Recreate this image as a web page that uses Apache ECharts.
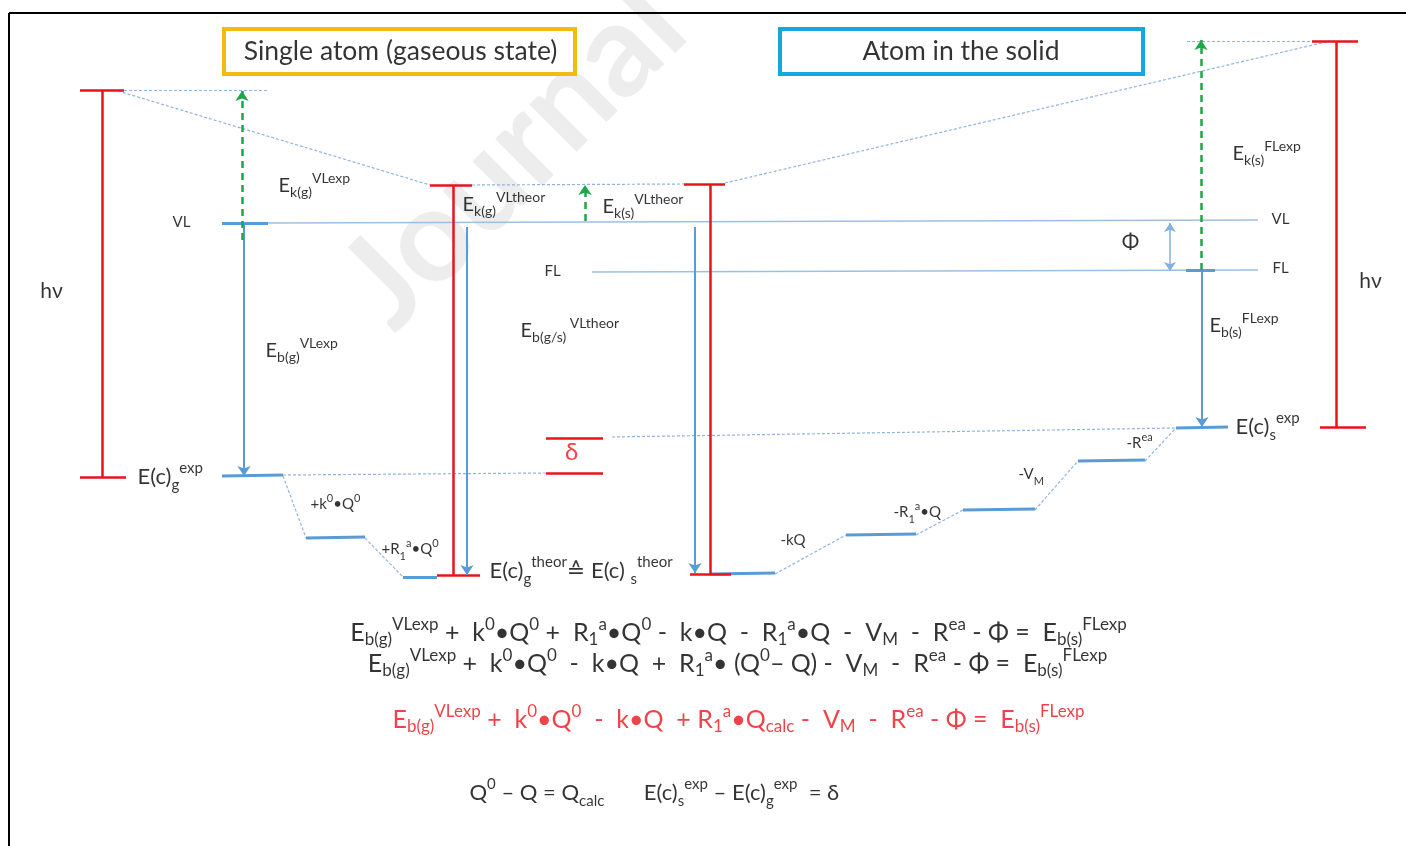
<!DOCTYPE html>
<html><head><meta charset="utf-8">
<script src="https://cdn.jsdelivr.net/npm/echarts@6/dist/echarts.min.js"></script>
<style>html,body{margin:0;padding:0;background:#fff}#c{width:1406px;height:846px}</style>
</head><body><div id="c"></div>
<script>
// ---------------- DATA (diagram coordinates: x = horizontal place, y = energy position, drawn top-down) ----------------
const frameLines   = [[9,13,1406,13],[9,13,9,846]];
const boxes        = [[224,29,575,74],[780,29,1143,74]];
const boxTitles    = [[401,51.5,'Single atom (gaseous state)'],[961.5,51.5,'Atom in the solid']];
const thinLevels   = [[268,223,1258,220],[592,272,1258,270]];              // VL, FL
const dottedLinks  = [
  [283,476,306,538],[365,538,403,577],
  [775,574,846,535],[916,535,963,510],[1035,510,1078,461],[1145,461,1176,428],
  [283,475,546,473],[612,437,1176,428],
  [124,90,268,90],[118,91,430,185],[472,185,684,184],[725,183,1330,41],[1187,41,1312,41]
];
const levelBars    = [
  [222,476,283,475],[306,538,365,537],[403,577,437,577],
  [710,574,775,573],[846,535,916,534],[963,510,1035,509],[1078,461,1145,460],[1176,428,1228,427],
  [222,223,268,223],[1186,270,1215,270]
];
const redBars      = [
  [80,90,124,90],[102,90,102,477],[80,477,126,477],
  [430,185,472,185],[453,185,453,575],[437,575,480,575],
  [684,184,725,184],[710,184,710,574],[690,574,731,574],
  [1312,41,1358,41],[1336,41,1336,427],[1320,427,1366,427],
  [546,438,603,438],[546,473,603,473]
];
const blueArrows   = [[244,224,244,476],[467,227,467,575],[695,227,695,573],[1202,272,1202,427]];
const phiArrow     = [[1170,223,1170,271]];
const greenArrows  = [[242,240,242,91],[585,221,585,185],[1201,270,1201,40]];

const leftLabels   = [
  [279,186,'{m|E}{s|k(g)}{u|VLexp}'],
  [463,205,'{m|E}{s|k(g)}{u|VLtheor}'],
  [603,207,'{m|E}{s|k(s)}{u|VLtheor}'],
  [266,351,'{m|E}{s|b(g)}{u|VLexp}'],
  [521,331,'{m|E}{s|b(g/s)}{u| VLtheor}'],
  [1233,154,'{m|E}{s|k(s)}{u|FLexp}'],
  [1210,326,'{m|E}{s|b(s)}{u|FLexp}'],
  [311,505,'{t|+k}{tu|0}{t|•Q}{tu|0}'],
  [382,550,'{t|+R}{ts|1}{tu|a}{t|•Q}{tu|0}'],
  [781,541,'{t|-kQ}'],
  [894,513,'{t|-R}{ts|1}{tu|a}{t|•Q}'],
  [1019,475,'{t|-V}{ts|M}'],
  [1127,444,'{t|-R}{tu|ea}'],
  [138,477,'{A|E(c)}{B|g}{C|exp}'],
  [490,571,'{A|E(c)}{B|g}{C|theor}{A|≙ E(c) }{B|s}{C|theor}'],
  [1236,427,'{A|E(c)}{B|s}{C|exp}'],
  [470,793,'{A|Q}{C|0}{A| – Q = Q}{B|calc}{A|       E(c)}{B|s}{C|exp}{A| – E(c)}{B|g}{C|exp}{A|  = δ}']
];
const centerLabels = [
  [182,223,'{p|VL}'],[1281,220,'{p|VL}'],[553,272,'{p|FL}'],[1281,269,'{p|FL}'],
  [52,292,'{h|hν}'],[1371,282,'{h|hν}'],[1131,243,'{h|Φ}'],[572,453,'{d|δ}']
];
const equations    = [
  [739,633,'{Q|E}{QB|b(g)}{QC|VLexp}{Q| +  k}{QC|0}{Q|•Q}{QC|0}{Q| +  R}{QB|1}{QC|a}{Q|•Q}{QC|0}{Q| -  k•Q  -  R}{QB|1}{QC|a}{Q|•Q  -  V}{QB|M}{Q|  -  R}{QC|ea}{Q| - Φ =  E}{QB|b(s)}{QC|FLexp}'],
  [738,664,'{Q|E}{QB|b(g)}{QC|VLexp}{Q| +  k}{QC|0}{Q|•Q}{QC|0}{Q|  -  k•Q  +  R}{QB|1}{QC|a}{Q|• (Q}{QC|0}{Q|– Q) -  V}{QB|M}{Q|  -  R}{QC|ea}{Q| - Φ =  E}{QB|b(s)}{QC|FLexp}'],
  [739,720,'{R|E}{RB|b(g)}{RC|VLexp}{R| +  k}{RC|0}{R|•Q}{RC|0}{R|  -  k•Q  + R}{RB|1}{RC|a}{R|•Q}{RB|calc}{R| -  V}{RB|M}{R|  -  R}{RC|ea}{R| - Φ =  E}{RB|b(s)}{RC|FLexp}']
];
const watermark    = [[514,156,'Journal']];

// ---------------- STYLE / BUILD ----------------
const F = 'Lato, "DejaVu Sans", sans-serif';
const INK = '#000';
const RED = '#e8141b';
const BLUE = '#5b9bd5';
const seg = arr => arr.map(s => ({coords: [[s[0], s[1]], [s[2], s[3]]]}));
const rectPath = arr => arr.map(b => ({coords: [[b[0], b[1]], [b[2], b[1]], [b[2], b[3]], [b[0], b[3]], [b[0], b[1]]]}));
function lineSeries(data, style, extra) {
  return Object.assign({
    type: 'lines', coordinateSystem: 'cartesian2d', polyline: false, silent: true,
    symbol: ['none', 'none'], lineStyle: Object.assign({opacity: 1, curveness: 0}, style),
    data: data, z: 3
  }, extra || {});
}
const tok = (size, lh, va, color) => ({fontSize: size, lineHeight: lh, verticalAlign: va, fontFamily: F, color: color || INK});
const rich = {
  m: tok(20, 28, 'middle'), s: tok(14, 14, 'bottom'), u: tok(14, 14, 'top'),
  t: tok(15, 24, 'middle'), ts: tok(11, 11, 'bottom'), tu: tok(11, 11, 'top'),
  A: tok(22, 32, 'middle'), B: tok(15, 16, 'bottom'), C: tok(15, 16, 'top'),
  Q: tok(25, 32, 'middle'), QB: tok(17, 17, 'bottom'), QC: tok(17, 17, 'top'),
  R: tok(25, 32, 'middle', RED), RB: tok(17, 17, 'bottom', RED), RC: tok(17, 17, 'top', RED),
  p: tok(15, 20, 'middle'), h: tok(21, 26, 'middle'), d: tok(24, 28, 'middle', RED)
};
function textSeries(arr, align) {
  return {
    type: 'scatter', silent: true, symbolSize: 1, itemStyle: {color: 'rgba(0,0,0,0)'}, z: 10,
    data: arr.map(d => ({value: [d[0], d[1]], text: d[2]})),
    label: {show: true, position: [0, 0], align: align, verticalAlign: 'middle',
      formatter: p => p.data.text, rich: rich}
  };
}

const chart = echarts.init(document.getElementById('c'), null, {renderer: 'canvas'});
chart.setOption({
  animation: false,
  backgroundColor: '#fff',
  grid: {left: 0, right: 0, top: 0, bottom: 0},
  xAxis: {type: 'value', min: 0, max: 1406, show: false},
  yAxis: {type: 'value', min: 0, max: 846, inverse: true, show: false},
  series: [
    {type: 'scatter', silent: true, symbolSize: 1, itemStyle: {color: 'rgba(0,0,0,0)'}, z: 1,
     data: watermark.map(d => ({value: [d[0], d[1]], text: d[2]})),
     label: {show: true, position: [0, 0], align: 'center', verticalAlign: 'middle', rotate: 45,
       formatter: p => p.data.text, fontSize: 130, fontWeight: 'bold', fontFamily: 'Lato, "Liberation Sans", sans-serif', color: '#e9e9e9'}},
    lineSeries(seg(frameLines), {color: INK, width: 2}),
    lineSeries(rectPath(boxes.slice(0, 1)), {color: '#f4b912', width: 4, join: 'miter', cap: 'square'}, {polyline: true}),
    lineSeries(rectPath(boxes.slice(1)), {color: '#15a7e2', width: 4, join: 'miter', cap: 'square'}, {polyline: true}),
    lineSeries(seg(thinLevels), {color: '#9cc0e4', width: 1.5}),
    lineSeries(seg(dottedLinks), {color: '#8fb5de', width: 1.2, type: [3, 2]}),
    lineSeries(seg(levelBars), {color: BLUE, width: 3}),
    lineSeries(seg(redBars), {color: RED, width: 2.5}),
    lineSeries(seg(blueArrows), {color: BLUE, width: 2}, {symbol: ['none', 'arrow'], symbolSize: 10}),
    lineSeries(seg(phiArrow), {color: '#82b1de', width: 1.5}, {symbol: ['arrow', 'arrow'], symbolSize: 9}),
    lineSeries(seg(greenArrows), {color: '#1ea64b', width: 2.5, type: [7, 5]}, {symbol: ['none', 'arrow'], symbolSize: 10}),
    {type: 'scatter', silent: true, z: 8, symbolSize: 1, itemStyle: {color: 'rgba(0,0,0,0)'},
     data: boxTitles.map(d => ({value: [d[0], d[1]], text: d[2]})),
     label: {show: true, position: [0, 0], align: 'center', verticalAlign: 'middle',
       formatter: p => p.data.text, fontSize: 26.5, fontFamily: F, color: INK}},
    textSeries(leftLabels, 'left'),
    textSeries(centerLabels, 'center'),
    textSeries(equations, 'center')
  ]
});
</script></body></html>
